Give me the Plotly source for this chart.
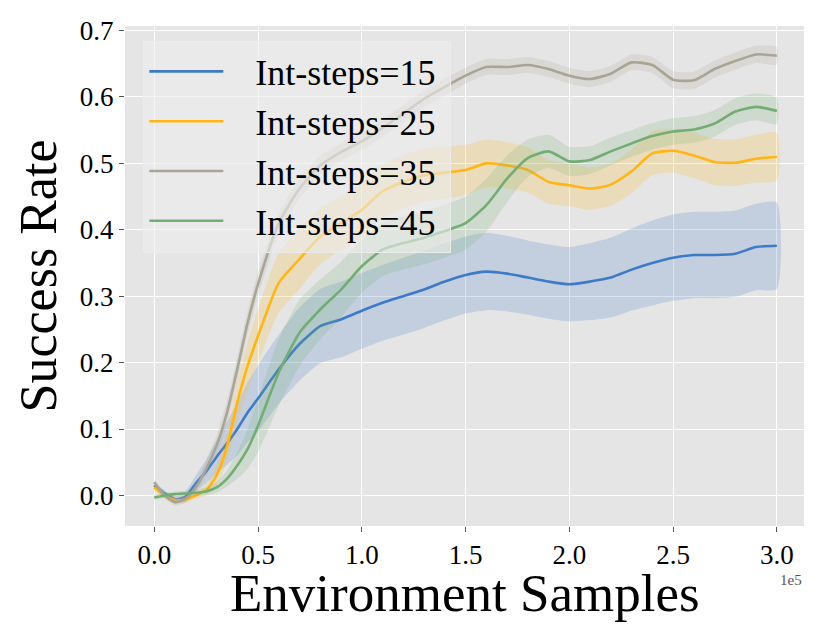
import numpy as np
import plotly.graph_objects as go

# ----------------------------
# data (x in units of 1e5 env samples)
# ----------------------------
steps = [0.0, 0.05, 0.1, 0.15, 0.2, 0.25, 0.3, 0.35, 0.4, 0.45, 0.5,
         0.6, 0.7, 0.8, 0.9, 1.0, 1.1, 1.2, 1.3, 1.4, 1.5, 1.6, 1.7, 1.8,
         1.9, 2.0, 2.1, 2.2, 2.3, 2.4, 2.5, 2.6, 2.7, 2.8, 2.9, 3.0]

sr_15 = [0.015, 0.003, -0.006, -0.002, 0.018, 0.036, 0.058, 0.078, 0.100, 0.125, 0.146,
         0.190, 0.228, 0.255, 0.265, 0.278, 0.290, 0.300, 0.310, 0.322, 0.332, 0.337, 0.334, 0.328,
         0.322, 0.318, 0.322, 0.328, 0.340, 0.350, 0.358, 0.362, 0.362, 0.364, 0.374, 0.376]
sd_15 = [0.005, 0.005, 0.005, 0.008, 0.012, 0.018, 0.025, 0.032, 0.040, 0.045, 0.050,
         0.052, 0.055, 0.056, 0.057, 0.057, 0.057, 0.058, 0.058, 0.058, 0.058, 0.058, 0.057, 0.056,
         0.056, 0.056, 0.058, 0.060, 0.062, 0.064, 0.065, 0.065, 0.065, 0.065, 0.065, 0.065]

sr_25 = [0.012, 0.000, -0.007, -0.006, 0.000, 0.008, 0.030, 0.073, 0.140, 0.195, 0.240,
         0.320, 0.356, 0.390, 0.410, 0.430, 0.458, 0.472, 0.482, 0.486, 0.490, 0.500, 0.497, 0.490,
         0.472, 0.467, 0.462, 0.468, 0.488, 0.515, 0.519, 0.512, 0.502, 0.501, 0.507, 0.510]
sd_25 = [0.005, 0.005, 0.005, 0.005, 0.005, 0.008, 0.015, 0.022, 0.030, 0.036, 0.040,
         0.045, 0.045, 0.042, 0.040, 0.040, 0.040, 0.040, 0.040, 0.039, 0.038, 0.036, 0.035, 0.034,
         0.033, 0.032, 0.032, 0.032, 0.033, 0.033, 0.033, 0.034, 0.035, 0.035, 0.036, 0.036]

sr_35 = [0.020, 0.000, -0.010, -0.005, 0.012, 0.040, 0.075, 0.124, 0.190, 0.260, 0.318,
         0.410, 0.462, 0.497, 0.517, 0.533, 0.553, 0.575, 0.597, 0.615, 0.632, 0.645, 0.645, 0.648,
         0.642, 0.632, 0.627, 0.635, 0.652, 0.648, 0.626, 0.625, 0.642, 0.654, 0.664, 0.662]
sd_35 = [0.005, 0.005, 0.005, 0.006, 0.008, 0.012, 0.015, 0.018, 0.018, 0.018, 0.018,
         0.016, 0.015, 0.014, 0.013, 0.013, 0.013, 0.013, 0.013, 0.013, 0.012, 0.012, 0.012, 0.012,
         0.012, 0.012, 0.012, 0.012, 0.012, 0.012, 0.013, 0.013, 0.013, 0.013, 0.013, 0.013]

sr_45 = [-0.003, 0.000, 0.002, 0.003, 0.004, 0.006, 0.012, 0.025, 0.045, 0.070, 0.105,
         0.185, 0.245, 0.280, 0.310, 0.345, 0.370, 0.380, 0.388, 0.398, 0.410, 0.437, 0.477, 0.508,
         0.518, 0.503, 0.505, 0.518, 0.530, 0.541, 0.548, 0.551, 0.560, 0.578, 0.585, 0.579]
sd_45 = [0.004, 0.004, 0.004, 0.004, 0.005, 0.006, 0.008, 0.012, 0.020, 0.030, 0.040,
         0.050, 0.050, 0.045, 0.042, 0.040, 0.040, 0.040, 0.040, 0.040, 0.040, 0.040, 0.035, 0.028,
         0.025, 0.022, 0.021, 0.021, 0.020, 0.020, 0.020, 0.020, 0.020, 0.020, 0.020, 0.020]

labels = ["Int-steps=15", "Int-steps=25", "Int-steps=35", "Int-steps=45"]
colors = ["#3d7ac8", "#ffb515", "#a9a596", "#74ad74"]
fills = ["rgba(61,122,200,0.2)", "rgba(255,181,21,0.2)",
         "rgba(169,165,150,0.2)", "rgba(116,173,116,0.2)"]

serif = "Liberation Serif"
pad = "\u00a0\u00a0\u00a0"   # gap between legend line and its text

# ----------------------------
# figure
# ----------------------------
fig = go.Figure()
x = np.array(steps)
for name, mean, sd, col, fc in zip(labels, [sr_15, sr_25, sr_35, sr_45],
                                   [sd_15, sd_25, sd_35, sd_45], colors, fills):
    mean = np.array(mean)
    sd = np.array(sd)
    upper = mean + sd
    lower = mean - sd
    # shaded band
    fig.add_trace(go.Scatter(
        x=np.concatenate([x, x[::-1]]), y=np.concatenate([upper, lower[::-1]]),
        fill="toself", fillcolor=fc, line=dict(width=0, shape="spline", smoothing=0.6),
        mode="lines", hoverinfo="skip", showlegend=False, legendgroup=name
    ))
    # mean line
    fig.add_trace(go.Scatter(
        x=x, y=mean, mode="lines", name=pad + name + "\u00a0", legendgroup=name,
        line=dict(color=col, width=2.6, shape="spline", smoothing=0.6)
    ))

axis_common = dict(
    showgrid=True, gridcolor="white", gridwidth=1.3,
    zeroline=False, showline=False, automargin=False,
    ticks="outside", ticklen=5, tickwidth=1, tickcolor="#555555",
    tickfont=dict(family=serif, size=27, color="black"),
)

fig.update_xaxes(
    range=[-0.141, 3.131], tickvals=[0, 0.5, 1, 1.5, 2, 2.5, 3], tickformat=".1f",
    **axis_common
)
fig.update_yaxes(
    range=[-0.046, 0.7068], tickvals=[0, 0.1, 0.2, 0.3, 0.4, 0.5, 0.6, 0.7], tickformat=".1f",
    title=dict(text="Success Rate", font=dict(family=serif, size=52, color="black"), standoff=6),
    **axis_common
)

# x title placed by hand so it sits where the reference has it
fig.add_annotation(text="Environment Samples", x=0.5, y=-0.133, xref="paper", yref="paper",
                   xanchor="center", yanchor="middle", showarrow=False,
                   font=dict(family=serif, size=53, color="black"))

# scientific offset label, as matplotlib shows it
fig.add_annotation(text="1e5", x=1.0, y=-0.088, xref="paper", yref="paper",
                   xanchor="right", yanchor="top", showarrow=False,
                   font=dict(family=serif, size=15, color="#555555"))

# page body adds an 8px offset, so the figure is 8px smaller than the window
fig.update_layout(
    width=822, height=631,
    plot_bgcolor="#e5e5e5", paper_bgcolor="white",
    margin=dict(l=117, r=26, t=18, b=113),
    font=dict(family=serif),
    legend=dict(
        x=0.027, y=0.971, xanchor="left", yanchor="top",
        bgcolor="rgba(236,236,236,0.6)", bordercolor="#ebebeb", borderwidth=1,
        font=dict(family=serif, size=36, color="black"),
        itemwidth=74, tracegroupgap=0,
    ),
)

fig.write_html("out.html")
